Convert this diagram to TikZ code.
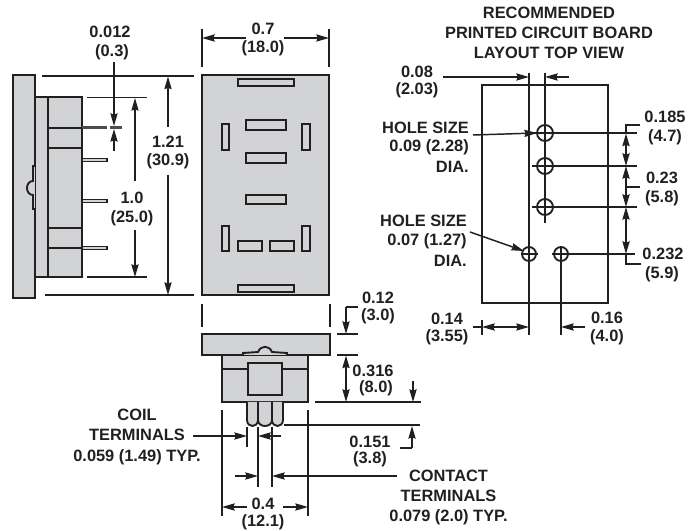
\documentclass[tikz,border=0pt]{standalone}
\usepackage{fontspec}
\setmainfont{Liberation Sans}
\usetikzlibrary{arrows.meta}
\definecolor{ink}{HTML}{231F20}
\definecolor{part}{HTML}{D1D3D4}
\tikzset{
  outl/.style={draw=ink,line width=1.4pt,line join=miter},
  body/.style={outl,fill=part},
  slot/.style={draw=ink,line width=1.4pt,fill=part},
  dim/.style={draw=ink,line width=1.1pt},
  tip/.style={dim,-{Stealth[length=9.5pt,width=5.4pt,inset=1pt]}},
  tips/.style={dim,{Stealth[length=9.5pt,width=5.4pt,inset=1pt]}-{Stealth[length=9.5pt,width=5.4pt,inset=1pt]}},
  lab/.style={inner sep=0pt,text=ink,font=\fontsize{12.3pt}{14.6pt}\selectfont\bfseries,align=center,anchor=center},
  labr/.style={lab,align=right,anchor=east},
}
\newcommand{\txt}[4][lab]{\node[#1] (#2) at (#3) {#4};}
\begin{document}
\begin{tikzpicture}[x=0.75pt,y=-0.75pt]
\useasboundingbox (0,0) rectangle (694,531);
% ---------- side view
\draw[body] (35,97) rectangle (48,277);
\draw[body] (48,97) rectangle (82,277);
\draw[outl] (48,128) -- (82,128) (48,148) -- (82,148) (48,228) -- (82,228) (48,248) -- (82,248);
\fill[part] (13,75) rectangle (35,298);
\draw[outl] (35,97) -- (35,75) -- (13,75) -- (13,298) -- (35,298) -- (35,277);
\draw[outl] (35,97) -- (35,166) -- (33,166) -- (33,181)
  .. controls (25,181) and (25,195) .. (33,195) -- (33,209) -- (35,209) -- (35,277);
\foreach \y in {160,201,248}{\draw[draw=ink,line width=0.8pt,fill=part] (82,\y-1.4) rectangle (107,\y+1.4);}
\fill[ink!80] (82,125.8) rectangle (107,129.2);
\fill[ink!80] (110,125.8) rectangle (122,129.2);
% side view dimensions
\draw[dim] (42,76) -- (194,76) (45,295) -- (194,295) (87,97.5) -- (147,97.5) (87,277) -- (147,277);
\draw[tip] (168,127) -- (168,76.5);
\draw[tip] (168,175) -- (168,295);
\draw[tip] (135,181) -- (135,98);
\draw[tip] (135,230) -- (135,277);
\draw[tip] (114,62) -- (114,126);
\draw[tip] (114,151) -- (114,129);
\txt{a1}{110,32}{0.012}
\txt{a2}{112,52}{(0.3)}
\txt{a3}{168,142}{1.21}
\txt{a4}{168,161}{(30.9)}
\txt{a5}{132,198}{1.0}
\txt{a6}{132,218}{(25.0)}
% ---------- front view
\draw[body] (202,75) rectangle (329,295);
\foreach \a/\b/\c/\d in {238/79/294/86,238/285/294/292,222/124/229/150,302/124/310/150,246/120/286/130,246/153/286/163,246/195/286/204,222/226/229/251,302/226/310/251,238/241/262/251,270/241/294/251}{
  \draw[slot] (\a,\b) rectangle (\c,\d);}
\draw[dim] (202,29) -- (202,67) (329,29) -- (329,67);
\draw[tip] (246,38) -- (202,38);
\draw[tip] (284,38) -- (329,38);
\txt{b1}{263,29}{0.7}
\txt{b2}{263,48}{(18.0)}
\draw[dim] (202,304) -- (202,327) (330,304) -- (330,327);
% ---------- bottom view
\draw[body] (222,355) rectangle (308,402);
\draw[outl] (222,369) -- (308,369);
\draw[body] (248,363) rectangle (282,395);
\fill[part] (202,334) rectangle (330,355);
\draw[outl] (202,334) -- (330,334) -- (330,355) -- (287,355) -- (287,353) -- (272,352)
  .. controls (269,345) and (261,345) .. (258,352) -- (243,353) -- (243,355) -- (202,355) -- cycle;
\foreach \a/\b in {247/258,258/272,272/283}{
  \draw[body] (\a,402) -- (\a,420) .. controls (\a,428) and (\b,428) .. (\b,420) -- (\b,402);}
% bottom view dimensions
\draw[dim] (337,334) -- (358,334) (337,355) -- (358,355) (315,402) -- (421,402) (284,425) -- (420,425);
\draw[dim] (358,307) -- (346,307);
\draw[tip] (346,307) -- (346,334);
\draw[tips] (346,355.5) -- (346,402);
\draw[tip] (413,381) -- (413,402);
\draw[dim] (400,448) -- (412,448);
\draw[tip] (412,448) -- (412,426);
\txt{c1}{378,298}{0.12}
\txt{c2}{378,316}{(3.0)}
\txt{c3}{373,371}{0.316}
\txt{c4}{376,388}{(8.0)}
\txt{c5}{370,442}{0.151}
\txt{c6}{370,459}{(3.8)}
\draw[dim] (222,410) -- (222,516) (308,410) -- (308,516);
\draw[dim] (247,427) -- (247,447) (258,427) -- (258,487) (272,427) -- (272,487);
\draw[tip] (193,436) -- (247,436);
\draw[tip] (281,436) -- (258,436);
\draw[tip] (235,476) -- (258,476);
\draw[tip] (397,476) -- (272,476);
\draw[tip] (247,507) -- (222,507);
\draw[tip] (283,507) -- (308,507);
\txt{d1}{263,504}{0.4}
\txt{d2}{263,522}{(12.1)}
\txt{d3}{137,415}{COIL}
\txt{d4}{137,435}{TERMINALS}
\txt{d5}{137,457}{0.059 (1.49) TYP.}
\txt{d6}{448.5,476}{CONTACT}
\txt{d7}{448.5,496}{TERMINALS}
\txt{d8}{448.5,517}{0.079 (2.0) TYP.}
% ---------- PCB layout
\draw[outl] (482,85) rectangle (608,303);
\draw[outl] (529,73) -- (529,335) (545,73) -- (545,223) (561,247) -- (561,335);
\draw[outl] (529,133) -- (637,133) (532,166) -- (637,166) (532,207) -- (637,207) (522,254) -- (538,254) (552,254) -- (635,254);
\foreach \y in {133,166,207}{\draw[outl] (545,\y) circle[radius=8];}
\foreach \x in {529,561}{\draw[outl] (\x,254) circle[radius=7];}
\draw[tip] (443,77) -- (529,77);
\draw[tip] (569,77) -- (545,77);
\draw[tip] (473,135) -- (537,133);
\draw[tip] (470,232) -- (524,251);
\draw[dim] (640,125) -- (626,125) -- (626,133);
\draw[tips] (626,133.5) -- (626,166);
\draw[tips] (626,166) -- (626,207);
\draw[tips] (626,207) -- (626,254);
\draw[dim] (626,187) -- (640,187);
\draw[dim] (626,254) -- (626,264) -- (641,264);
\draw[dim] (482,320) -- (482,335) (473,327) -- (482,327);
\draw[tips] (482,327) -- (529,327);
\draw[tip] (585,327) -- (561,327);
\txt{e1}{549,13}{RECOMMENDED}
\txt{e2}{549,33}{PRINTED CIRCUIT BOARD}
\txt{e3}{549,53}{LAYOUT TOP VIEW}
\txt{e4}{417,72}{0.08}
\txt{e5}{417,90}{(2.03)}
\txt[labr]{e6}{469,128}{HOLE SIZE}
\txt[labr]{e7}{469,147}{0.09 (2.28)}
\txt[labr]{e8}{469,167}{DIA.}
\txt[labr]{e9}{467,221}{HOLE SIZE}
\txt[labr]{e10}{467,241}{0.07 (1.27)}
\txt[labr]{e11}{467,261}{DIA.}
\txt{f1}{665,117}{0.185}
\txt{f2}{665,137}{(4.7)}
\txt{f3}{662,178}{0.23}
\txt{f4}{662,198}{(5.8)}
\txt{f5}{663,254}{0.232}
\txt{f6}{662,274}{(5.9)}
\txt{g1}{447,319}{0.14}
\txt{g2}{447,337}{(3.55)}
\txt{g3}{607,318}{0.16}
\txt{g4}{607,337}{(4.0)}
\end{tikzpicture}
\end{document}
